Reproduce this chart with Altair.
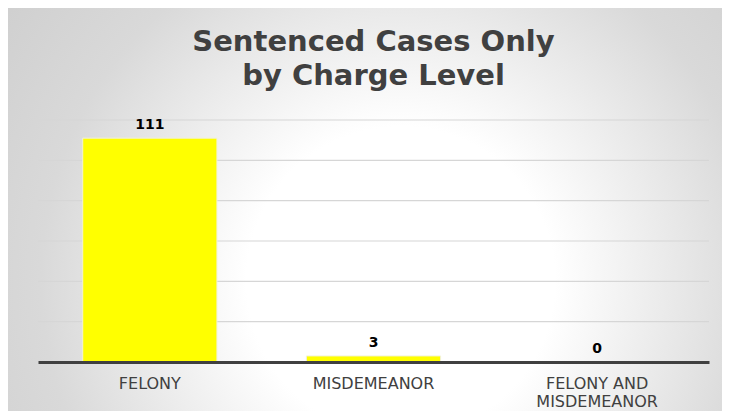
import altair as alt
import pandas as pd

# ---- data ----
categories = ["FELONY", "MISDEMEANOR", "FELONY AND MISDEMEANOR"]
counts = [111, 3, 0]
grid_values = [20, 40, 60, 80, 100, 120]
y_max = 120
title_lines = ["Sentenced Cases Only", "by Charge Level"]

W, H = 671, 242
PAD = {"left": 30, "top": 112, "right": 13, "bottom": 49}
FONT = "DejaVu Sans"

df = pd.DataFrame({"category": categories, "count": counts})
grid_df = pd.DataFrame({"v": grid_values})
bg_df = pd.DataFrame({"k": [0]})

yscale = alt.Scale(domain=[0, y_max], nice=False, zero=True)
xenc = alt.X(
    "category:N",
    sort=categories,
    scale=alt.Scale(paddingInner=0.4, paddingOuter=0.2),
    axis=alt.Axis(
        title=None,
        domainColor="#404040",
        domainWidth=3,
        ticks=False,
        tickSize=0,
        grid=False,
        labelAngle=0,
        labelPadding=13,
        labelFont=FONT,
        labelFontSize=16,
        labelColor="#404040",
        labelLineHeight=18,
        labelExpr="datum.label == 'FELONY AND MISDEMEANOR' ? ['FELONY AND', 'MISDEMEANOR'] : datum.label",
        zindex=1,
    ),
)

gradient = {
    "gradient": "radial",
    "x1": 0.55, "y1": 0.6, "r1": 0,
    "x2": 0.55, "y2": 0.6, "r2": 0.72,
    "stops": [
        {"offset": 0, "color": "#ffffff"},
        {"offset": 0.3, "color": "#ffffff"},
        {"offset": 0.7, "color": "#d9d9d9"},
        {"offset": 1, "color": "#cdcdcd"},
    ],
}

bg = alt.Chart(bg_df).mark_rect(fill=gradient, strokeWidth=0).encode(
    x=alt.value(-PAD["left"]),
    x2=alt.value(W + PAD["right"]),
    y=alt.value(-PAD["top"]),
    y2=alt.value(H + PAD["bottom"]),
)

grid = alt.Chart(grid_df).mark_rule(color="#d6d6d6", strokeWidth=1.2).encode(
    y=alt.Y("v:Q", scale=yscale, axis=None)
)

bars = alt.Chart(df).mark_bar(color="#ffff00", stroke="#f2f2d8", strokeWidth=1).encode(
    x=xenc,
    y=alt.Y("count:Q", scale=yscale, axis=None),
)

labels = alt.Chart(df).mark_text(
    dy=-9, baseline="alphabetic", font=FONT, fontSize=14, fontWeight="bold", color="#000000"
).encode(
    x=xenc,
    y=alt.Y("count:Q", scale=yscale, axis=None),
    text="count:Q",
)

chart = (
    alt.layer(bg, grid, bars, labels)
    .properties(
        width=W,
        height=H,
        autosize=alt.AutoSizeParams(type="none"),
        padding=PAD,
        background="#d4d4d4",
        title=alt.Title(
            text=title_lines,
            font=FONT,
            fontSize=29,
            fontWeight="bold",
            color="#404040",
            lineHeight=34,
            anchor="middle",
            frame="group",
            baseline="alphabetic",
            offset=-106,
        ),
    )
    .configure_view(stroke=None)
)

chart.save("out.html", embed_options={"renderer": "svg", "actions": False})
